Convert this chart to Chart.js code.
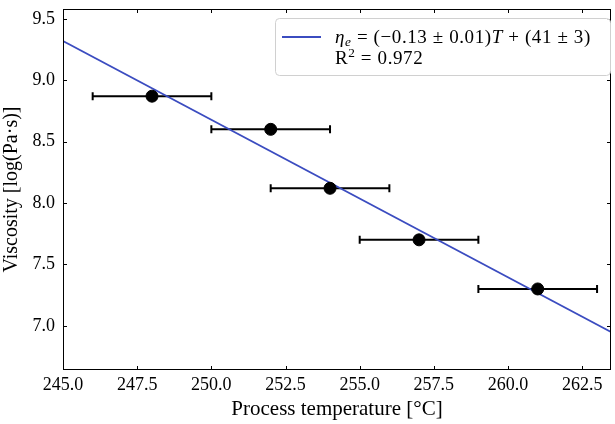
<!DOCTYPE html>
<html lang="en">
<head>
    <meta charset="UTF-8">
    <title>Viscosity vs process temperature</title>
    <script src="https://cdn.jsdelivr.net/npm/chart.js"></script>
    <style>
        html, body { margin: 0; padding: 0; background: #fff; overflow: hidden; }
        #wrap { width: 615px; height: 424px; overflow: hidden; }
    </style>
</head>
<body>
    <div id="wrap">
        <canvas id="grafico" width="618" height="424"></canvas>
    </div>

    <script>
        // dados
        const temperaturas = [248, 252, 254, 257, 261];
        const viscosidades = [8.87, 8.60, 8.12, 7.70, 7.30];
        const erroTemp = [2, 2, 2, 2, 2];

        // reta ajustada (extremos)
        const ajusteX = [245, 263.47];
        const ajusteY = [9.32, 6.95];

        const xTicks = [245.0, 247.5, 250.0, 252.5, 255.0, 257.5, 260.0, 262.5];
        const yTicks = [7.0, 7.5, 8.0, 8.5, 9.0, 9.5];

        const legendaLinha1 = [
            { t: 'η', it: true },
            { t: 'e', it: true, sub: true },
            { t: ' = (−0.13 ± 0.01)' },
            { t: 'T', it: true },
            { t: ' + (41 ± 3)' }
        ];
        const legendaLinha2 = [
            { t: 'R' },
            { t: '2', sup: true },
            { t: ' = 0.972' }
        ];

        const fonte = "'Liberation Serif', 'DejaVu Serif', serif";
        const azul = '#3b4cc0';

        Chart.defaults.font.family = fonte;
        Chart.defaults.font.size = 18;
        Chart.defaults.color = '#000';

        // barras de erro horizontais
        const errorBars = {
            id: 'errorBars',
            beforeDatasetsDraw(chart) {
                const ctx = chart.ctx;
                const x = chart.scales.x, y = chart.scales.y;
                ctx.save();
                ctx.strokeStyle = '#000';
                ctx.lineWidth = 2;
                temperaturas.forEach((t, i) => {
                    const x0 = x.getPixelForValue(t - erroTemp[i]);
                    const x1 = x.getPixelForValue(t + erroTemp[i]);
                    const py = y.getPixelForValue(viscosidades[i]);
                    ctx.beginPath();
                    ctx.moveTo(x0, py); ctx.lineTo(x1, py);
                    ctx.moveTo(x0, py - 4); ctx.lineTo(x0, py + 4);
                    ctx.moveTo(x1, py - 4); ctx.lineTo(x1, py + 4);
                    ctx.stroke();
                });
                ctx.restore();
            }
        };

        // moldura e ticks para dentro, nos quatro lados
        const moldura = {
            id: 'moldura',
            afterDraw(chart) {
                const ctx = chart.ctx;
                const a = chart.chartArea;
                const x = chart.scales.x, y = chart.scales.y;
                ctx.save();
                ctx.strokeStyle = '#000';
                ctx.lineWidth = 1;
                ctx.strokeRect(a.left + 0.5, a.top + 0.5, a.right - a.left - 1, a.bottom - a.top - 1);
                ctx.beginPath();
                xTicks.forEach(v => {
                    const px = Math.round(x.getPixelForValue(v)) + 0.5;
                    ctx.moveTo(px, a.bottom); ctx.lineTo(px, a.bottom - 4);
                    ctx.moveTo(px, a.top); ctx.lineTo(px, a.top + 4);
                });
                yTicks.forEach(v => {
                    const py = Math.round(y.getPixelForValue(v)) + 0.5;
                    ctx.moveTo(a.left, py); ctx.lineTo(a.left + 4, py);
                    ctx.moveTo(a.right, py); ctx.lineTo(a.right - 4, py);
                });
                ctx.stroke();
                ctx.restore();
            }
        };

        function escreverPartes(ctx, partes, x, base, tam) {
            partes.forEach(p => {
                const s = (p.sub || p.sup) ? tam * 0.7 : tam;
                ctx.font = (p.it ? 'italic ' : '') + s + 'px ' + fonte;
                let by = base;
                if (p.sub) by += tam * 0.15;
                if (p.sup) by -= tam * 0.36;
                ctx.fillText(p.t, x, by);
                x += ctx.measureText(p.t).width;
            });
        }

        // legenda com texto matemático
        const legenda = {
            id: 'legenda',
            afterDraw(chart) {
                const ctx = chart.ctx;
                ctx.save();
                const bx = 275, by = 18, bw = 335, bh = 57;
                ctx.beginPath();
                ctx.roundRect(bx + 0.5, by + 0.5, bw, bh, 4);
                ctx.fillStyle = 'rgba(255,255,255,0.85)';
                ctx.fill();
                ctx.strokeStyle = '#d0d0d0';
                ctx.lineWidth = 1;
                ctx.stroke();

                ctx.strokeStyle = azul;
                ctx.lineWidth = 2;
                ctx.beginPath();
                ctx.moveTo(282, 37); ctx.lineTo(321, 37);
                ctx.stroke();

                ctx.fillStyle = '#000';
                ctx.textBaseline = 'alphabetic';
                ctx.letterSpacing = '0.6px';
                escreverPartes(ctx, legendaLinha1, 335, 43, 19);
                escreverPartes(ctx, legendaLinha2, 335, 64, 19);
                ctx.restore();
            }
        };

        const dados = {
            datasets: [
                {
                    type: 'line',
                    label: 'ajuste',
                    data: ajusteX.map((v, i) => ({ x: v, y: ajusteY[i] })),
                    borderColor: azul,
                    borderWidth: 1.8,
                    pointRadius: 0,
                    fill: false,
                    order: 2
                },
                {
                    type: 'scatter',
                    label: 'dados',
                    data: temperaturas.map((v, i) => ({ x: v, y: viscosidades[i] })),
                    backgroundColor: '#000',
                    borderColor: '#000',
                    pointRadius: 6,
                    order: 1
                }
            ]
        };

        const config = {
            type: 'scatter',
            data: dados,
            options: {
                responsive: false,
                animation: false,
                layout: { padding: { top: 9, right: 1, left: 0, bottom: 0 } },
                plugins: {
                    legend: { display: false },
                    tooltip: { enabled: false }
                },
                scales: {
                    x: {
                        type: 'linear',
                        min: 245,
                        max: 263.47,
                        afterBuildTicks: s => { s.ticks = xTicks.map(v => ({ value: v })); },
                        afterFit: s => { s.height = 54; s.paddingLeft = 0; s.paddingRight = 0; },
                        grid: { drawOnChartArea: false, drawTicks: false },
                        border: { display: false },
                        ticks: { padding: 4, callback: v => Number(v).toFixed(1) },
                        title: { display: true, text: 'Process temperature [°C]', font: { size: 21 }, padding: { top: 0, bottom: 2 } }
                    },
                    y: {
                        type: 'linear',
                        min: 6.64,
                        max: 9.58,
                        afterBuildTicks: s => { s.ticks = yTicks.map(v => ({ value: v })); },
                        afterFit: s => { s.width = 63; s.paddingTop = 0; s.paddingBottom = 0; },
                        grid: { drawOnChartArea: false, drawTicks: false },
                        border: { display: false },
                        ticks: { padding: 8, callback: v => Number(v).toFixed(1) },
                        title: { display: true, text: 'Viscosity [log(Pa·s)]', font: { size: 20 }, padding: { top: 0, bottom: 0 } }
                    }
                }
            },
            plugins: [errorBars, moldura, legenda]
        };

        new Chart(document.getElementById('grafico').getContext('2d'), config);
    </script>
</body>
</html>
